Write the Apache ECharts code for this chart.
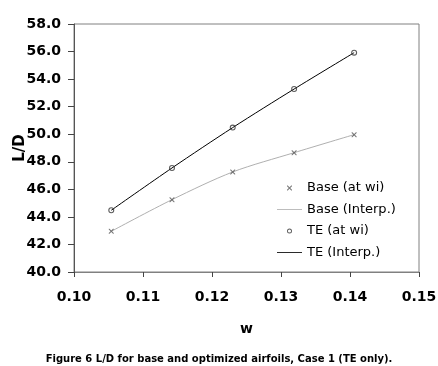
<!DOCTYPE html>
<html><head><meta charset="utf-8">
<script src="https://cdn.jsdelivr.net/npm/echarts@6/dist/echarts.min.js"></script>
<style>html,body{margin:0;padding:0;background:#fff}#c{width:438px;height:366px}</style>
</head><body><div id="c"></div>
<script>
const wValues = [0.1054, 0.1142, 0.1230, 0.1319, 0.1406];
const baseLD = [42.95, 45.25, 47.26, 48.66, 49.97];
const teLD = [44.48, 47.55, 50.48, 53.28, 55.92];
const seriesNames = ['Base (at wi)', 'Base (Interp.)', 'TE (at wi)', 'TE (Interp.)'];
const caption = 'Figure 6 L/D for base and optimized airfoils, Case 1 (TE only).';

const pair = (xs, ys) => xs.map((x, i) => [x, ys[i]]);
const crossShape = 'M0,0L1.5,0L5,3.5L8.5,0L10,0L10,1.5L6.5,5L10,8.5L10,10L8.5,10L5,6.5L1.5,10L0,10L0,8.5L3.5,5L0,1.5Z';
const ringShape = 'M5,0A5,5 0 1 1 5,10A5,5 0 1 1 5,0ZM5,1.8A3.2,3.2 0 1 0 5,8.2A3.2,3.2 0 1 0 5,1.8Z';
const crossPath = 'path://' + crossShape;
const ringPath = 'path://' + ringShape;
const crossLegend = 'path://M-9,-9M19,19' + crossShape;
const ringLegend = 'path://M-9,-9M19,19' + ringShape;
const lineIcon = 'path://M0,0L30,0L30,1L0,1Z';
const font = '"DejaVu Sans", Arial, sans-serif';

const chart = echarts.init(document.getElementById('c'));
chart.setOption({
  animation: false,
  backgroundColor: '#fff',
  grid: { left: 74, right: 19, top: 24, bottom: 94, show: true, borderColor: '#808080', borderWidth: 1,
    containLabel: false, outerBoundsMode: 'none' },
  xAxis: {
    type: 'value', min: 0.10, max: 0.15, interval: 0.01,
    name: 'w', nameLocation: 'middle', nameGap: 50, nameMoveOverlap: false,
    nameTextStyle: { fontFamily: font, fontWeight: 'bold', fontSize: 14, color: '#000' },
    axisLine: { lineStyle: { color: '#808080' } },
    axisTick: { inside: false, length: 5, lineStyle: { color: '#444' } },
    axisLabel: { margin: 18, fontFamily: font, fontWeight: 'bold', fontSize: 14, color: '#000',
      formatter: v => v.toFixed(2) },
    splitLine: { show: false }
  },
  yAxis: {
    type: 'value', min: 40, max: 58, interval: 2,
    name: 'L/D', nameLocation: 'middle', nameGap: 46, nameRotate: 90, nameMoveOverlap: false,
    nameTextStyle: { fontFamily: font, fontWeight: 'bold', fontSize: 15, color: '#000' },
    axisLine: { show: true, lineStyle: { color: '#555' } },
    axisTick: { inside: false, length: 6, lineStyle: { color: '#444' } },
    axisLabel: { margin: 13, fontFamily: font, fontWeight: 'bold', fontSize: 14, color: '#000',
      formatter: v => v.toFixed(1) },
    splitLine: { show: false }
  },
  legend: {
    orient: 'vertical', left: 272, top: 176, itemGap: 8, itemWidth: 25, itemHeight: 14,
    textStyle: { fontFamily: font, fontSize: 13, color: '#000' },
    data: [
      { name: seriesNames[0], icon: crossLegend, itemStyle: { color: '#555' } },
      { name: seriesNames[1], icon: lineIcon, itemStyle: { color: '#b0b0b0' } },
      { name: seriesNames[2], icon: ringLegend, itemStyle: { color: '#333', borderWidth: 0 } },
      { name: seriesNames[3], icon: lineIcon, itemStyle: { color: '#000' } }
    ],
    selectedMode: false
  },
  graphic: [{
    type: 'text', left: 'center', top: 354,
    style: { text: caption, font: 'bold 10px ' + font, fill: '#000' }
  }],
  series: [
    { name: seriesNames[1], type: 'line', data: pair(wValues, baseLD), smooth: 0.3, showSymbol: false,
      lineStyle: { color: '#b0b0b0', width: 1 }, itemStyle: { color: '#b0b0b0' }, z: 1 },
    { name: seriesNames[3], type: 'line', data: pair(wValues, teLD), smooth: 0.3, showSymbol: false,
      lineStyle: { color: '#000', width: 1 }, itemStyle: { color: '#000' }, z: 1 },
    { name: seriesNames[0], type: 'scatter', data: pair(wValues, baseLD), symbol: crossPath, symbolSize: 5,
      itemStyle: { color: '#555' }, z: 3 },
    { name: seriesNames[2], type: 'scatter', data: pair(wValues, teLD), symbol: ringPath, symbolSize: 6,
      itemStyle: { color: '#333', borderWidth: 0 }, z: 3 }
  ]
});
</script></body></html>
